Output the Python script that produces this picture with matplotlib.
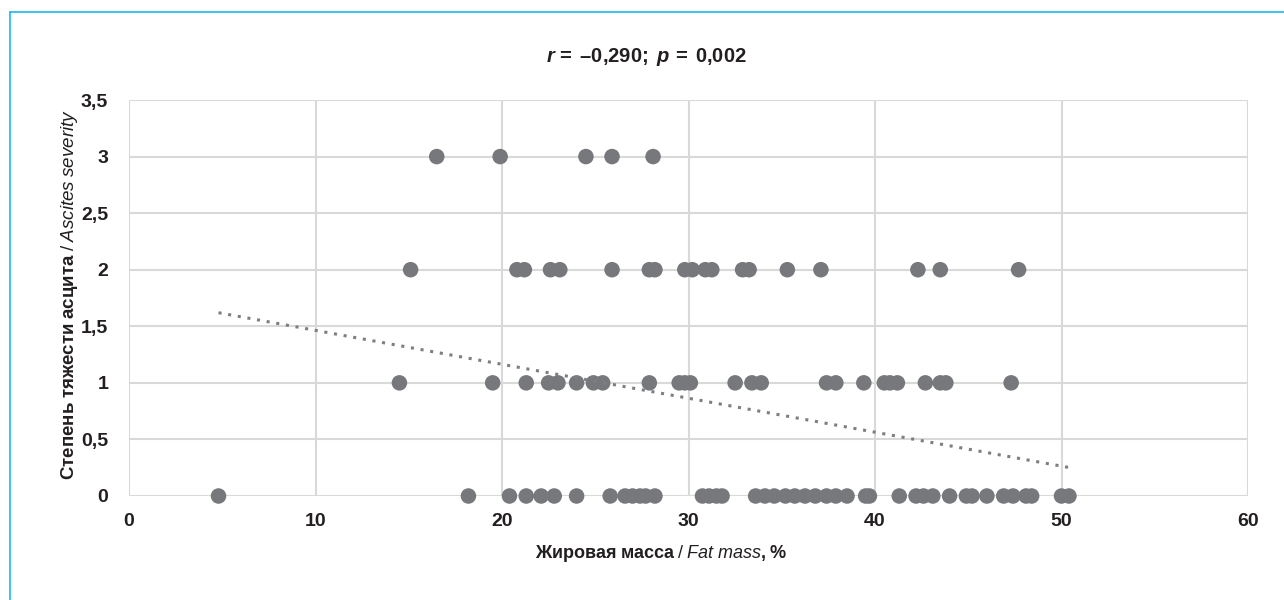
import numpy as np
import matplotlib
matplotlib.use("Agg")
import matplotlib.pyplot as plt
from matplotlib.lines import Line2D

# Fat mass (%) grouped by ascites severity grade
fat_grade3 = [16.5, 19.9, 24.5, 25.9, 28.1]
fat_grade2 = [15.1, 20.8, 21.2, 22.6, 23.1, 25.9, 27.9, 28.2, 29.8, 30.2,
              30.9, 31.25, 32.9, 33.25, 35.3, 37.1, 42.3, 43.5, 47.7]
fat_grade1 = [14.5, 19.5, 21.3, 22.5, 23.0, 24.0, 24.9, 25.4, 27.9, 29.5,
              29.8, 30.1, 32.5, 33.4, 33.9, 37.4, 37.9, 39.4, 40.5, 40.8,
              41.2, 42.7, 43.5, 43.8, 47.3]
fat_grade0 = [4.8, 18.2, 20.4, 21.3, 22.1, 22.8, 24.0, 25.8, 26.6, 27.0,
              27.4, 27.7, 28.2, 30.75, 31.1, 31.5, 31.8, 33.6, 34.1, 34.6,
              35.2, 35.7, 36.25, 36.8, 37.4, 37.9, 38.5, 39.5, 39.7, 41.3,
              42.2, 42.6, 43.1, 44.0, 44.9, 45.2, 46.0, 46.9, 47.4, 48.1,
              48.4, 50.0, 50.4]
grades = [0, 1, 2, 3]

# Linear trend: severity = trend_intercept + trend_slope * fat mass
trend_slope = -0.0300
trend_intercept = 1.764

x_ticks = [0, 10, 20, 30, 40, 50, 60]
y_ticks = [0, 0.5, 1, 1.5, 2, 2.5, 3, 3.5]
y_tick_labels = ["0", "0,5", "1", "1,5", "2", "2,5", "3", "3,5"]

plt.rcParams["font.family"] = ["Liberation Sans", "DejaVu Sans"]
plt.rcParams["mathtext.fontset"] = "custom"
plt.rcParams["mathtext.rm"] = "Liberation Sans"
plt.rcParams["mathtext.it"] = "Liberation Sans:italic"
plt.rcParams["mathtext.bf"] = "Liberation Sans:bold"
plt.rcParams["mathtext.bfit"] = "Liberation Sans:italic:bold"

fig = plt.figure(figsize=(12.84, 6.0), dpi=100)
ax = fig.add_axes([129 / 1284, 1 - 496 / 600, (1248 - 129) / 1284, (496 - 100) / 600])

point_color = "#77787c"
groups = [fat_grade0, fat_grade1, fat_grade2, fat_grade3]
all_x = []
for g, xs in zip(grades, groups):
    ax.scatter(xs, [g] * len(xs), s=125, color=point_color, edgecolor="none",
               zorder=3, clip_on=False)
    all_x += xs

# Trend drawn across the observed fat-mass range
xt = np.array([min(all_x), max(all_x)])
ax.plot(xt, trend_intercept + trend_slope * xt, linestyle=(0, (1, 2.2)),
        linewidth=2.2, color="#7d7e82", zorder=4)

ax.set_xlim(0, 60)
ax.set_ylim(0, 3.5)
ax.set_xticks(x_ticks)
ax.set_yticks(y_ticks)
ax.set_yticklabels(y_tick_labels)
ax.grid(True, color="#d9d9d9", linewidth=1.5, zorder=0)
ax.set_axisbelow(True)
for sp in ax.spines.values():
    sp.set_visible(False)
ax.tick_params(length=0, labelsize=14, pad=15)
ax.tick_params(axis="x", pad=12)
for lbl in ax.get_xticklabels() + ax.get_yticklabels():
    lbl.set_fontweight("bold")
    lbl.set_color("#231f20")

txt_color = "#231f20"
ax.set_title(r"$\mathbfit{r}\mathbf{\,=\;–0{,}290;\ }\mathbfit{p}\mathbf{\,=\;0{,}002}$",
             fontsize=14.5, color=txt_color, pad=27, x=0.462)
ax.set_xlabel(r"$\mathbf{Жировая\;масса\;}\mathrm{/}\;\mathit{Fat\;mass}\mathbf{{,}\;\%}$",
              fontsize=13, color=txt_color)
ax.xaxis.set_label_coords(0.475, -0.118)
ax.set_ylabel(r"$\mathbf{Степень\;тяжести\;асцита\;}\mathrm{/}\;\mathit{Ascites\;severity}$",
              fontsize=13.5, color=txt_color)
ax.yaxis.set_label_coords(-0.044, 0.51)

# Blue frame along the top and left edges
frame_color = "#1fb8ea"
fig.add_artist(Line2D([10 / 1284, 1.0], [1 - 12 / 600, 1 - 12 / 600],
                      transform=fig.transFigure, color=frame_color, linewidth=1.2))
fig.add_artist(Line2D([10 / 1284, 10 / 1284], [0.0, 1 - 12 / 600],
                      transform=fig.transFigure, color=frame_color, linewidth=1.2))

fig.savefig("out.png", dpi=100, facecolor="white")
